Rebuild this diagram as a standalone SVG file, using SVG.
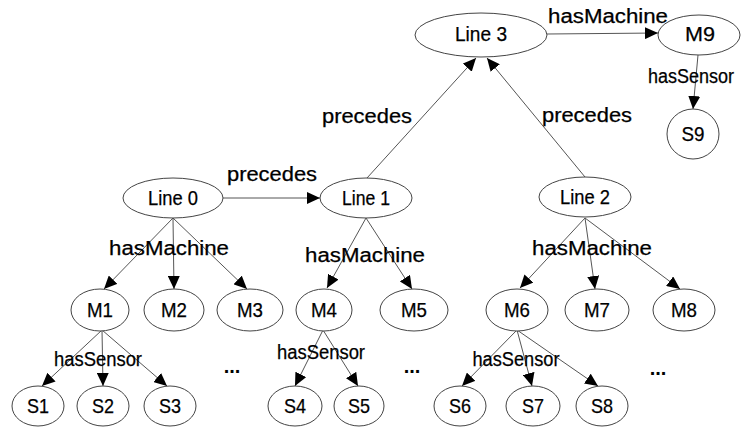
<svg xmlns="http://www.w3.org/2000/svg" width="750" height="428" viewBox="0 0 750 428">
<style>
.n{fill:#fff;stroke:#444;stroke-width:1}
.t{font-family:"Liberation Sans",Arial,sans-serif;font-size:21px;fill:#000;stroke:#000;stroke-width:0.25;text-anchor:middle}
.l{font-family:"Liberation Sans",Arial,sans-serif;font-size:19.5px;fill:#000;stroke:#000;stroke-width:0.25;text-anchor:middle}
.e{stroke:#555;stroke-width:1;fill:none;marker-end:url(#ah)}
</style>
<defs>
<marker id="ah" markerUnits="userSpaceOnUse" markerWidth="14" markerHeight="12" refX="13" refY="6" orient="auto">
<path d="M0,0 L13,6 L0,12 Z" fill="#000"/>
</marker>
</defs>
<rect width="750" height="428" fill="#fff"/>
<g id="connectors">
<line class="e" x1="547" y1="34" x2="658" y2="33"/>
<line class="e" x1="698" y1="55" x2="693" y2="109"/>
<line class="e" x1="367" y1="178" x2="476" y2="58"/>
<line class="e" x1="585" y1="177" x2="487" y2="58"/>
<line class="e" x1="223" y1="198" x2="320" y2="198"/>
<line class="e" x1="173" y1="218" x2="104" y2="289"/>
<line class="e" x1="173" y1="218" x2="174" y2="289"/>
<line class="e" x1="173" y1="218" x2="247" y2="289"/>
<line class="e" x1="366" y1="218" x2="327" y2="288"/>
<line class="e" x1="366" y1="218" x2="412" y2="289"/>
<line class="e" x1="585" y1="218" x2="520" y2="288"/>
<line class="e" x1="585" y1="218" x2="595" y2="289"/>
<line class="e" x1="585" y1="218" x2="680" y2="289"/>
<line class="e" x1="102" y1="330" x2="42" y2="386"/>
<line class="e" x1="102" y1="330" x2="103" y2="386"/>
<line class="e" x1="102" y1="330" x2="167" y2="386"/>
<line class="e" x1="323" y1="330" x2="295" y2="386"/>
<line class="e" x1="323" y1="330" x2="358" y2="386"/>
<line class="e" x1="517" y1="330" x2="462" y2="386"/>
<line class="e" x1="517" y1="330" x2="532" y2="386"/>
<line class="e" x1="517" y1="330" x2="598" y2="386"/>
<text class="l" x="608" y="23" textLength="120" lengthAdjust="spacingAndGlyphs">hasMachine</text>
<text class="l" x="691" y="83" textLength="86" lengthAdjust="spacingAndGlyphs">hasSensor</text>
<text class="l" x="367" y="123" textLength="90" lengthAdjust="spacingAndGlyphs">precedes</text>
<text class="l" x="587" y="122" textLength="90" lengthAdjust="spacingAndGlyphs">precedes</text>
<text class="l" x="272" y="181" textLength="90" lengthAdjust="spacingAndGlyphs">precedes</text>
<text class="l" x="169" y="255" textLength="120" lengthAdjust="spacingAndGlyphs">hasMachine</text>
<text class="l" x="365" y="262" textLength="120" lengthAdjust="spacingAndGlyphs">hasMachine</text>
<text class="l" x="592" y="255" textLength="120" lengthAdjust="spacingAndGlyphs">hasMachine</text>
<text class="l" x="98" y="366" textLength="88" lengthAdjust="spacingAndGlyphs">hasSensor</text>
<text class="l" x="321" y="359" textLength="88" lengthAdjust="spacingAndGlyphs">hasSensor</text>
<text class="l" x="516" y="366" textLength="87" lengthAdjust="spacingAndGlyphs">hasSensor</text>
</g>
<g id="line3"><ellipse class="n" cx="481" cy="35" rx="66" ry="22"/><text class="t" x="481" y="41" textLength="52" lengthAdjust="spacingAndGlyphs">Line 3</text></g>
<g id="m9"><ellipse class="n" cx="699" cy="35" rx="41" ry="20"/><text class="t" x="700" y="41" textLength="30" lengthAdjust="spacingAndGlyphs">M9</text></g>
<g id="s9"><ellipse class="n" cx="693" cy="134" rx="26" ry="25"/><text class="t" x="693" y="141" textLength="23" lengthAdjust="spacingAndGlyphs">S9</text></g>
<g id="line0"><ellipse class="n" cx="173" cy="198" rx="50" ry="20"/><text class="t" x="173" y="205" textLength="50" lengthAdjust="spacingAndGlyphs">Line 0</text></g>
<g id="line1"><ellipse class="n" cx="366" cy="198" rx="46" ry="20"/><text class="t" x="366" y="205" textLength="48" lengthAdjust="spacingAndGlyphs">Line 1</text></g>
<g id="line2"><ellipse class="n" cx="585" cy="197" rx="46" ry="20"/><text class="t" x="585" y="204" textLength="50" lengthAdjust="spacingAndGlyphs">Line 2</text></g>
<g id="m1"><ellipse class="n" cx="100" cy="310" rx="29" ry="21"/><text class="t" x="100" y="317" textLength="26" lengthAdjust="spacingAndGlyphs">M1</text></g>
<g id="m2"><ellipse class="n" cx="174" cy="310" rx="30" ry="21"/><text class="t" x="174" y="317" textLength="26" lengthAdjust="spacingAndGlyphs">M2</text></g>
<g id="m3"><ellipse class="n" cx="250" cy="310" rx="33" ry="21"/><text class="t" x="250" y="317" textLength="26" lengthAdjust="spacingAndGlyphs">M3</text></g>
<g id="m4"><ellipse class="n" cx="324" cy="310" rx="28" ry="21"/><text class="t" x="324" y="317" textLength="26" lengthAdjust="spacingAndGlyphs">M4</text></g>
<g id="m5"><ellipse class="n" cx="414" cy="310" rx="34" ry="21"/><text class="t" x="414" y="317" textLength="26" lengthAdjust="spacingAndGlyphs">M5</text></g>
<g id="m6"><ellipse class="n" cx="517" cy="310" rx="31" ry="21"/><text class="t" x="517" y="317" textLength="26" lengthAdjust="spacingAndGlyphs">M6</text></g>
<g id="m7"><ellipse class="n" cx="597" cy="310" rx="32" ry="21"/><text class="t" x="597" y="317" textLength="26" lengthAdjust="spacingAndGlyphs">M7</text></g>
<g id="m8"><ellipse class="n" cx="684" cy="310" rx="31" ry="21"/><text class="t" x="684" y="317" textLength="26" lengthAdjust="spacingAndGlyphs">M8</text></g>
<g id="s1"><ellipse class="n" cx="38" cy="406" rx="26" ry="20"/><text class="t" x="38" y="413" textLength="22" lengthAdjust="spacingAndGlyphs">S1</text></g>
<g id="s2"><ellipse class="n" cx="103" cy="406" rx="26" ry="20"/><text class="t" x="103" y="413" textLength="22" lengthAdjust="spacingAndGlyphs">S2</text></g>
<g id="s3"><ellipse class="n" cx="170" cy="406" rx="26" ry="20"/><text class="t" x="170" y="413" textLength="22" lengthAdjust="spacingAndGlyphs">S3</text></g>
<g id="s4"><ellipse class="n" cx="295" cy="406" rx="27" ry="20"/><text class="t" x="295" y="413" textLength="22" lengthAdjust="spacingAndGlyphs">S4</text></g>
<g id="s5"><ellipse class="n" cx="359" cy="406" rx="25" ry="20"/><text class="t" x="359" y="413" textLength="22" lengthAdjust="spacingAndGlyphs">S5</text></g>
<g id="s6"><ellipse class="n" cx="460" cy="406" rx="26" ry="20"/><text class="t" x="460" y="413" textLength="22" lengthAdjust="spacingAndGlyphs">S6</text></g>
<g id="s7"><ellipse class="n" cx="533" cy="406" rx="27" ry="20"/><text class="t" x="533" y="413" textLength="22" lengthAdjust="spacingAndGlyphs">S7</text></g>
<g id="s8"><ellipse class="n" cx="602" cy="406" rx="26" ry="20"/><text class="t" x="602" y="413" textLength="22" lengthAdjust="spacingAndGlyphs">S8</text></g>
<g id="ellipses" font-family="Liberation Sans, Arial, sans-serif" font-size="20" font-weight="bold" fill="#000" text-anchor="middle">
<text x="232" y="373">...</text>
<text x="412" y="373">...</text>
<text x="658" y="375">...</text>
</g>
</svg>
